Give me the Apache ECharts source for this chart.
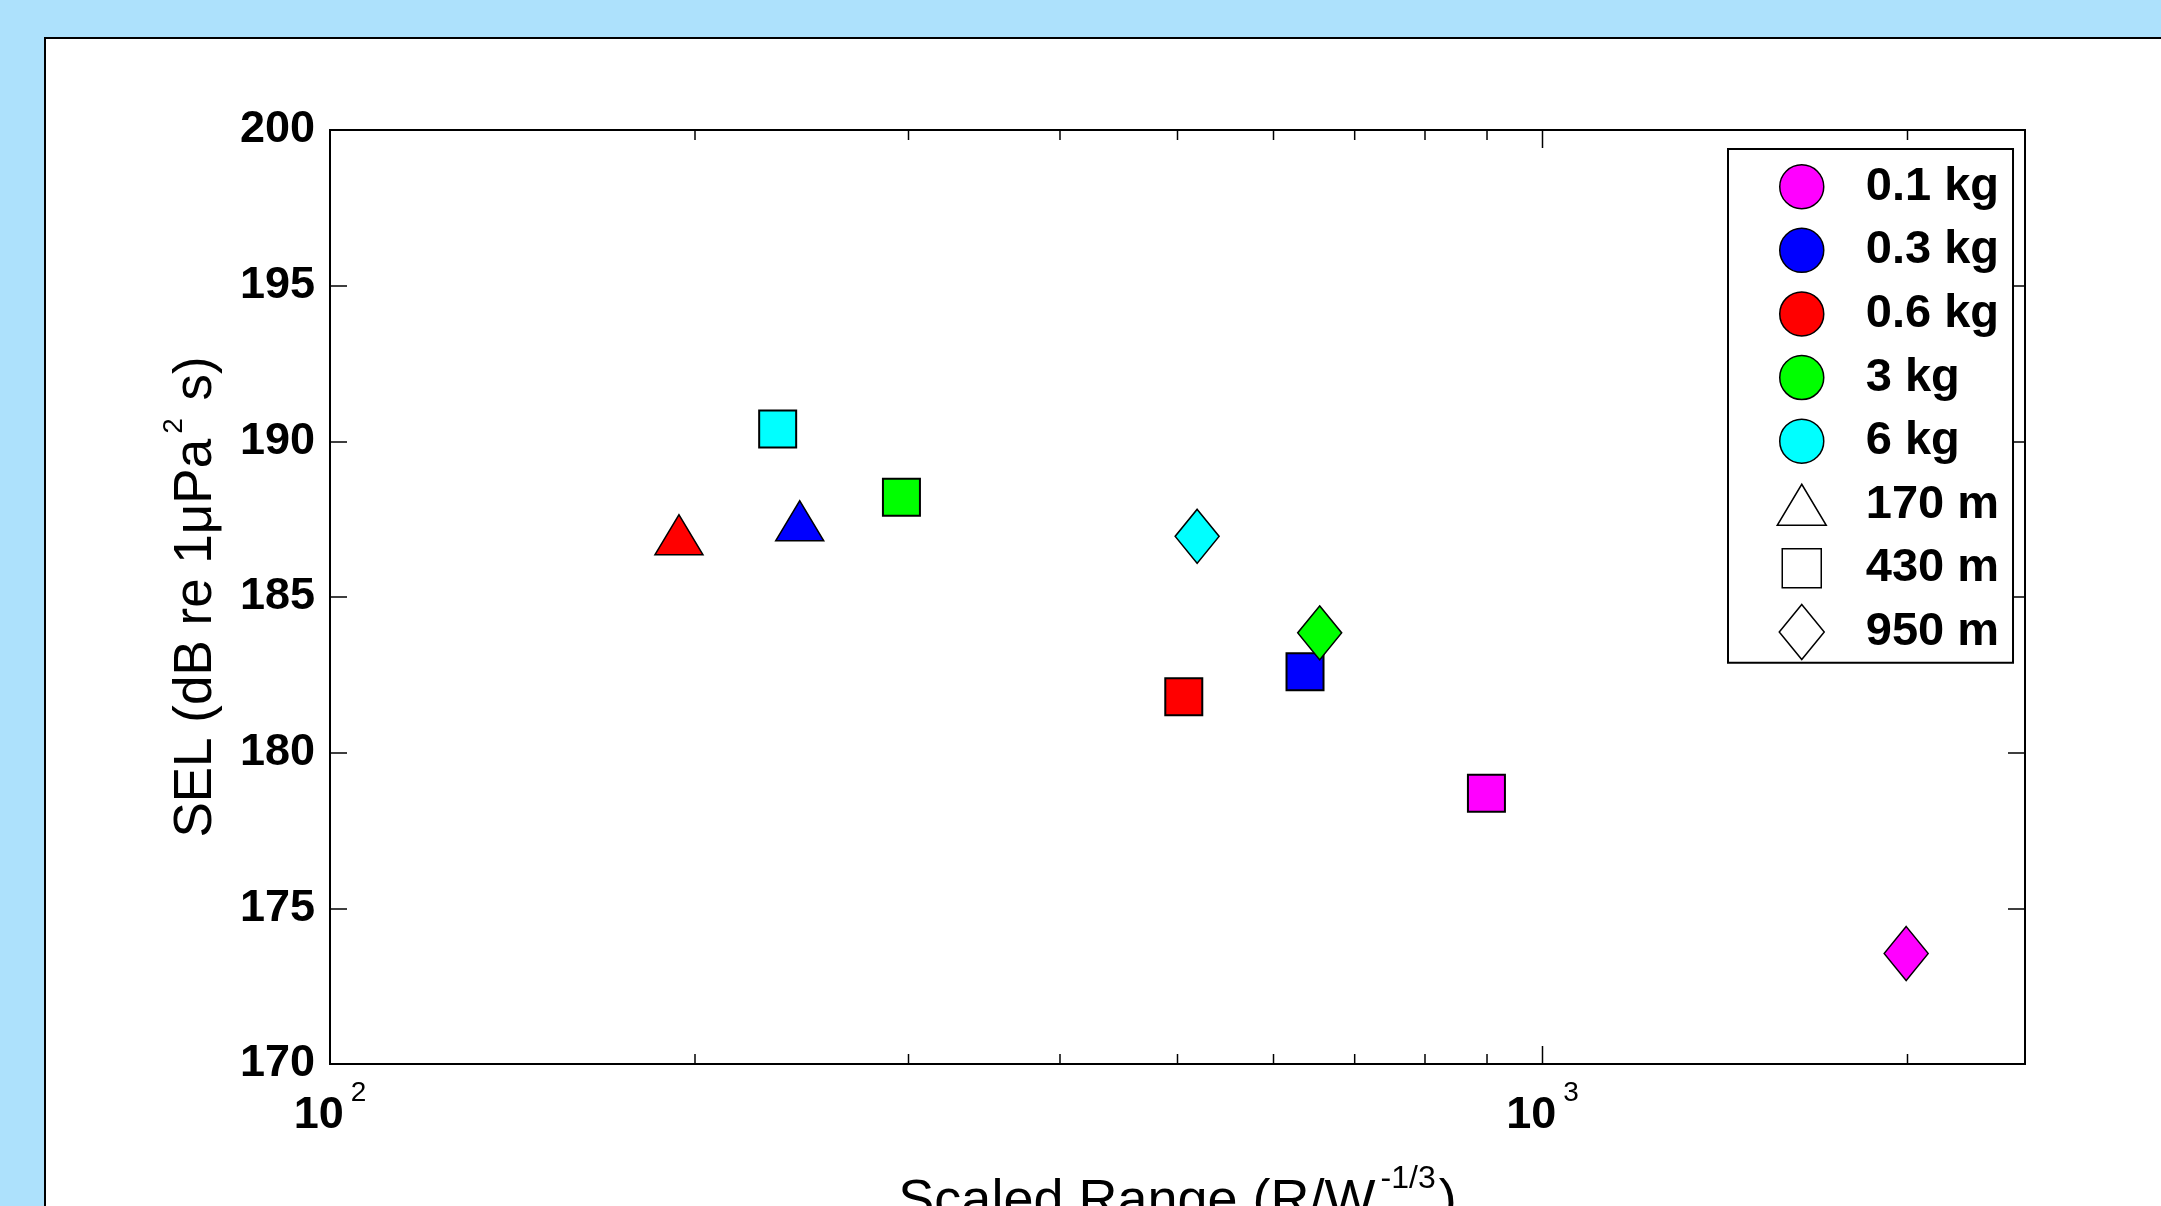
<!DOCTYPE html>
<html>
<head>
<meta charset="utf-8">
<script src="https://cdn.jsdelivr.net/npm/echarts@6/dist/echarts.min.js"></script>
<style>
  html, body { margin: 0; padding: 0; width: 2161px; height: 1206px; overflow: hidden; background: #ade1fc; }
  #panel { position: absolute; left: 44px; top: 37px; width: 2300px; height: 1400px; background: #fff; border: 2px solid #000; }
  #chart { position: absolute; left: 0; top: 0; width: 2161px; height: 1206px; }
</style>
</head>
<body>
<div id="panel"></div>
<div id="chart"></div>
<script>
// Charge weights (colour) and shot ranges (marker shape)
const massLabels = ['0.1 kg', '0.3 kg', '0.6 kg', '3 kg', '6 kg'];
const rangeLabels = ['170 m', '430 m', '950 m'];

// 170 m shots: charge, scaled range R/W^(1/3), SEL (dB re 1 uPa^2 s)
const r170Mass = ['0.3 kg', '0.6 kg'];
const r170X = [244, 194];
const r170Y = [187.45, 187.0];

// 430 m shots
const r430Mass = ['0.1 kg', '0.3 kg', '0.6 kg', '3 kg', '6 kg'];
const r430X = [899, 637, 506, 296, 234];
const r430Y = [178.7, 182.6, 181.8, 188.2, 190.4];

// 950 m shots
const r950Mass = ['0.1 kg', '3 kg', '6 kg'];
const r950X = [1995, 655, 519];
const r950Y = [173.55, 183.85, 186.95];

// Axis extents and ticks
const xRange = [100, 2500];
const yRange = [170, 200];
const yStep = 5;
const xTicks = [200, 300, 400, 500, 600, 700, 800, 900, 1000, 2000];

// ---- styling ----
const fam = "'Liberation Sans', Arial, Helvetica, sans-serif";
const massColors = ['#ff00ff', '#0000ff', '#ff0000', '#00ff00', '#00ffff'];
const rangeSymbols = ['triangle', 'rect', 'diamond'];
const rangeSizes = [[48, 40], [37, 37], [44, 54]];
const rangeBorder = [1.5, 2, 1.5];

// legend icons share one 50x56 box so every glyph keeps its own size
const circleIcon = 'path://M0,0M50,56M3,28A22,22 0 1 1 47,28A22,22 0 1 1 3,28Z';
const rangeIcons = [
  'path://M0,0M50,56M25,7.5L49.5,48.5L0.5,48.5Z',
  'path://M0,0M50,56M5.5,8.5L44.5,8.5L44.5,47.5L5.5,47.5Z',
  'path://M0,0M50,56M25,0.5L47.5,28L25,55.5L2.5,28Z'
];

function points(masses, xs, ys) {
  return xs.map((x, i) => ({
    value: [x, ys[i]],
    itemStyle: { color: massColors[massLabels.indexOf(masses[i])] }
  }));
}

const shots = [[r170Mass, r170X, r170Y], [r430Mass, r430X, r430Y], [r950Mass, r950X, r950Y]];

const rangeSeries = shots.map((d, k) => ({
  type: 'scatter',
  name: rangeLabels[k],
  symbol: rangeSymbols[k],
  symbolSize: rangeSizes[k],
  data: points(d[0], d[1], d[2]),
  itemStyle: { borderColor: '#000', borderWidth: rangeBorder[k], opacity: 1 },
  emphasis: { disabled: true },
  z: 3 + k
}));

const massSeries = massLabels.map((m, i) => ({
  type: 'scatter', name: m, data: [], itemStyle: { color: massColors[i], opacity: 1 }
}));

// minor/major ticks along the bottom and top edges of the log axis
const tickSeries = {
  type: 'custom',
  silent: true,
  clip: false,
  z: 10,
  data: xTicks.map(v => [v, yRange[0]]),
  renderItem(params, api) {
    const v = api.value(0);
    const e = Math.log10(v);
    const len = Math.abs(e - Math.round(e)) < 1e-6 ? 18 : 10;
    const b = api.coord([v, yRange[0]]);
    const t = api.coord([v, yRange[1]]);
    const st = { stroke: '#000', lineWidth: 1.5 };
    return {
      type: 'group',
      children: [
        { type: 'line', shape: { x1: b[0], y1: b[1], x2: b[0], y2: b[1] - len }, style: st },
        { type: 'line', shape: { x1: t[0], y1: t[1], x2: t[0], y2: t[1] + len }, style: st }
      ]
    };
  }
};

const supRich = (base, sup, pad) => ({
  t: { fontSize: base, fontFamily: fam, color: '#000', lineHeight: base, padding: [pad, 0, 0, 0] },
  s: { fontSize: sup, fontFamily: fam, color: '#000', lineHeight: sup, verticalAlign: 'top', padding: [0, 3, 0, 5] }
});

const yTickCommon = {
  type: 'value', min: yRange[0], max: yRange[1], interval: yStep,
  axisLine: { show: false }, splitLine: { show: false },
  axisTick: { inside: true, length: 17, lineStyle: { color: '#000', width: 1.5 } }
};

const chart = echarts.init(document.getElementById('chart'), null, { renderer: 'canvas' });
chart.setOption({
  animation: false,
  backgroundColor: 'transparent',
  grid: {
    left: 330, top: 130, width: 1695, height: 934,
    show: true, backgroundColor: '#fff', borderColor: '#000', borderWidth: 2,
    containLabel: false, outerBoundsMode: 'none'
  },
  xAxis: {
    type: 'log', logBase: 10, min: xRange[0], max: xRange[1],
    axisLine: { show: false }, axisTick: { show: false }, splitLine: { show: false },
    axisLabel: {
      margin: 15,
      formatter: v => {
        const e = Math.log10(v), r = Math.round(e);
        return Math.abs(e - r) < 1e-6 ? '{b|10}{s|' + r + '}' : '';
      },
      rich: {
        b: { fontSize: 45, fontWeight: 'bold', fontFamily: fam, color: '#000', lineHeight: 45, padding: [28, 0, 0, 0] },
        s: { fontSize: 28, fontFamily: fam, color: '#000', lineHeight: 28, verticalAlign: 'top', padding: [0, 0, 0, 7] }
      }
    },
    name: '{t|Scaled Range (R/W}{s|-1/3}{t|)}',
    nameLocation: 'middle', nameGap: 99,
    nameTextStyle: { rich: supRich(54, 32, 25) }
  },
  yAxis: [
    Object.assign({}, yTickCommon, {
      position: 'left',
      axisLabel: { margin: 15, fontSize: 45, fontWeight: 'bold', fontFamily: fam, color: '#000' },
      name: '{t|SEL (dB re 1μPa}{s|2}{t| s)}',
      nameLocation: 'middle', nameRotate: 90, nameGap: 117,
      nameTextStyle: { rich: supRich(53, 28, 20) }
    }),
    Object.assign({}, yTickCommon, { position: 'right', axisLabel: { show: false } })
  ],
  legend: {
    orient: 'vertical', left: 1728, top: 149,
    padding: [9, 14, 2, 48],
    itemWidth: 118, itemHeight: 56, itemGap: 6.1,
    backgroundColor: '#fff', borderColor: '#000', borderWidth: 2, borderRadius: 0,
    selectedMode: false,
    textStyle: { fontFamily: fam, fontSize: 47, lineHeight: 50, fontWeight: 'bold', color: '#000' },
    data: massLabels.map((m, i) => ({
      name: m, icon: circleIcon,
      itemStyle: { color: massColors[i], borderColor: '#000', borderWidth: 1.5, opacity: 1 }
    })).concat(rangeLabels.map((r, k) => ({
      name: r, icon: rangeIcons[k],
      itemStyle: { color: '#fff', borderColor: '#000', borderWidth: 1.5, opacity: 1 }
    })))
  },
  series: massSeries.concat(rangeSeries, [tickSeries])
});
</script>
</body>
</html>
